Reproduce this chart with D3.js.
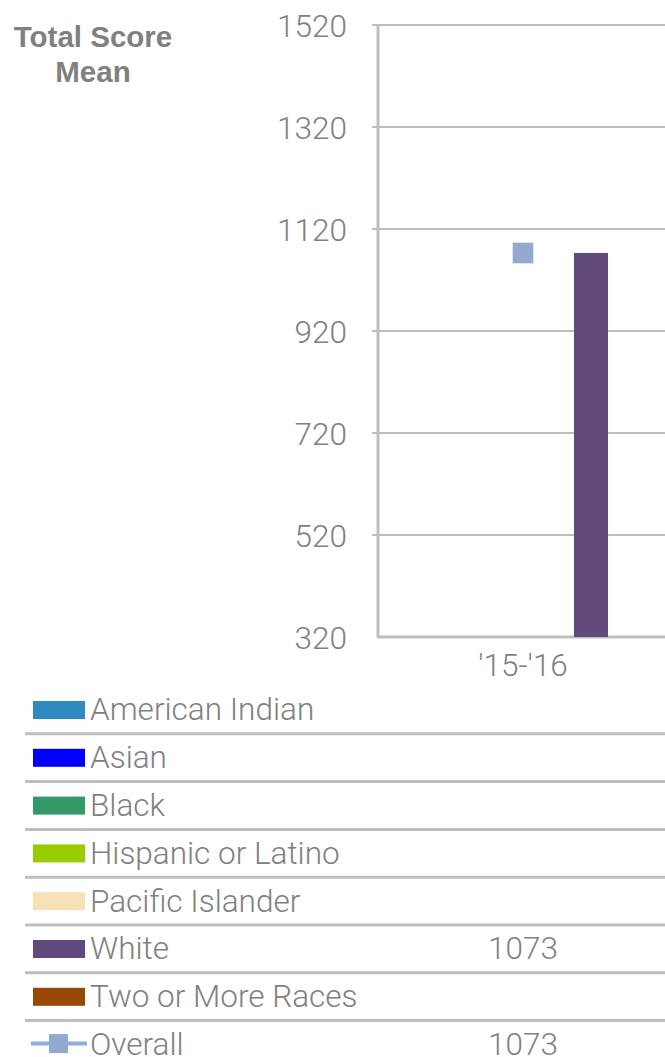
<!DOCTYPE html>
<html>
<head>
<meta charset="utf-8">
<script src="https://cdn.jsdelivr.net/npm/d3@7"></script>
<style>
  body { margin: 0; background: #fff; }
  text { font-family: Roboto, "Liberation Sans", sans-serif; }
</style>
</head>
<body>
<script>
//Data
var years = ["'15-'16"];
var races = ["American Indian", "Asian", "Black", "Hispanic or Latino", "Pacific Islander", "White", "Two or More Races"];
var raceColors = ["#2e8bc0", "#0000ff", "#339966", "#99cc00", "#f7e1b5", "#604a7b", "#974706"];
//one value per race for '15-'16 (null = no data)
var raceValues = [null, null, null, null, null, 1073, null];
var overallValues = [1073];
var yTicks = [320, 520, 720, 920, 1120, 1320, 1520];

//Width and height
var w = 665;
var h = 1057;
var grey = "#808080";
var lineGrey = "#bfbfbf";
var fontSize = "31.5px";

var svg = d3.select("body")
            .append("svg")
            .attr("width", w)
            .attr("height", h);

//Scales
var y = d3.scaleLinear()
          .domain([320, 1520])
          .range([637, 25]);

var x = d3.scaleBand()
          .domain(years)
          .range([378, 668]);

var xRace = d3.scaleBand()
              .domain(races)
              .range([-119, 119]);

//Title
var title = svg.append("text")
   .attr("x", 93)
   .attr("y", 47)
   .attr("text-anchor", "middle")
   .attr("fill", grey)
   .style("font-family", "'Liberation Sans', Arial, sans-serif")
   .style("font-weight", "bold")
   .style("font-size", "29.5px");
title.append("tspan").attr("x", 93).attr("dy", 0).text("Total Score");
title.append("tspan").attr("x", 93).attr("dy", 35).text("Mean");

//Gridlines
svg.append("g")
   .selectAll("line")
   .data(yTicks.slice(1))
   .enter()
   .append("line")
   .attr("x1", 372)
   .attr("x2", w)
   .attr("y1", function(d) { return y(d); })
   .attr("y2", function(d) { return y(d); })
   .attr("stroke", lineGrey)
   .attr("stroke-width", 2);

//Y axis
var yAxis = svg.append("g")
   .attr("transform", "translate(378,0)")
   .call(d3.axisLeft(y).tickValues(yTicks).tickFormat(d3.format("d")).tickSize(0).tickPadding(31));
yAxis.select(".domain")
   .attr("stroke", lineGrey)
   .attr("stroke-width", 3)
   .attr("d", "M0," + y(1520) + "V" + y(320));
yAxis.selectAll("text")
   .attr("fill", grey)
   .style("font-size", fontSize)
   .style("font-weight", 300)
   .attr("dy", "0.35em");

//X axis
var xAxis = svg.append("g")
   .attr("transform", "translate(0," + y(320) + ")")
   .call(d3.axisBottom(x).tickSize(0).tickPadding(12));
xAxis.select(".domain")
   .attr("stroke", lineGrey)
   .attr("stroke-width", 3)
   .attr("d", "M377,0H" + w);
xAxis.selectAll("text")
   .attr("fill", grey)
   .style("font-size", fontSize)
   .style("font-weight", 300)
   .attr("dy", "0.85em");

//Bars
var barData = [];
years.forEach(function(yr) {
    races.forEach(function(r, i) {
        if (raceValues[i] != null) {
            barData.push({year: yr, race: r, value: raceValues[i], color: raceColors[i]});
        }
    });
});

svg.append("g")
   .selectAll("rect")
   .data(barData)
   .enter()
   .append("rect")
   .attr("x", function(d) { return x(d.year) + x.bandwidth() / 2 + xRace(d.race); })
   .attr("width", xRace.bandwidth())
   .attr("y", function(d) { return y(d.value); })
   .attr("height", function(d) { return y(320) - y(d.value); })
   .attr("fill", function(d) { return d.color; });

//Overall line + markers
var overallColor = "#8faadc";
var line = d3.line()
    .x(function(d, i) { return x(years[i]) + x.bandwidth() / 2; })
    .y(function(d) { return y(d); });

svg.append("path")
   .datum(overallValues)
   .attr("d", line)
   .attr("fill", "none")
   .attr("stroke", overallColor)
   .attr("stroke-width", 4);

svg.append("g")
   .selectAll("rect")
   .data(overallValues)
   .enter()
   .append("rect")
   .attr("x", function(d, i) { return x(years[i]) + x.bandwidth() / 2 - 10.5; })
   .attr("y", function(d) { return y(d) - 10.5; })
   .attr("width", 21)
   .attr("height", 21)
   .attr("fill", "#93a9d1")
   .attr("stroke", "#dfe6f2")
   .attr("stroke-width", 1);

//Legend / data table
var rowTop = 686;
var rowH = 47.8;
var rows = races.map(function(r, i) {
    return {name: r, color: raceColors[i], values: [raceValues[i]], overall: false};
});
rows.push({name: "Overall", color: overallColor, values: overallValues, overall: true});

var legend = svg.append("g");

var row = legend.selectAll("g")
   .data(rows)
   .enter()
   .append("g")
   .attr("transform", function(d, i) { return "translate(0," + (rowTop + i * rowH) + ")"; });

//separator lines (between rows)
row.filter(function(d, i) { return i < rows.length - 1; })
   .append("line")
   .attr("x1", 25)
   .attr("x2", w)
   .attr("y1", rowH)
   .attr("y2", rowH)
   .attr("stroke", lineGrey)
   .attr("stroke-width", 3);

//swatches
row.filter(function(d) { return !d.overall; })
   .append("rect")
   .attr("x", 33)
   .attr("y", 15)
   .attr("width", 52)
   .attr("height", 18)
   .attr("fill", function(d) { return d.color; });

var ov = row.filter(function(d) { return d.overall; });
ov.append("line")
   .attr("x1", 31)
   .attr("x2", 87)
   .attr("y1", 23)
   .attr("y2", 23)
   .attr("stroke", "#8faadc")
   .attr("stroke-width", 4);
ov.append("rect")
   .attr("x", 49)
   .attr("y", 13.5)
   .attr("width", 19)
   .attr("height", 19)
   .attr("fill", "#93a9d1");

//labels
row.append("text")
   .attr("x", 90)
   .attr("y", 23)
   .attr("dy", "0.36em")
   .attr("fill", grey)
   .style("font-size", fontSize)
   .style("font-weight", 300)
   .text(function(d) { return d.name; });

//values
row.selectAll(".val")
   .data(function(d) { return d.values.map(function(v, i) { return {v: v, year: years[i]}; }); })
   .enter()
   .append("text")
   .attr("class", "val")
   .attr("x", function(d) { return x(d.year) + x.bandwidth() / 2; })
   .attr("y", 23)
   .attr("dy", "0.36em")
   .attr("text-anchor", "middle")
   .attr("fill", grey)
   .style("font-size", fontSize)
   .style("font-weight", 300)
   .text(function(d) { return d.v == null ? "" : d.v; });
</script>
</body>
</html>
